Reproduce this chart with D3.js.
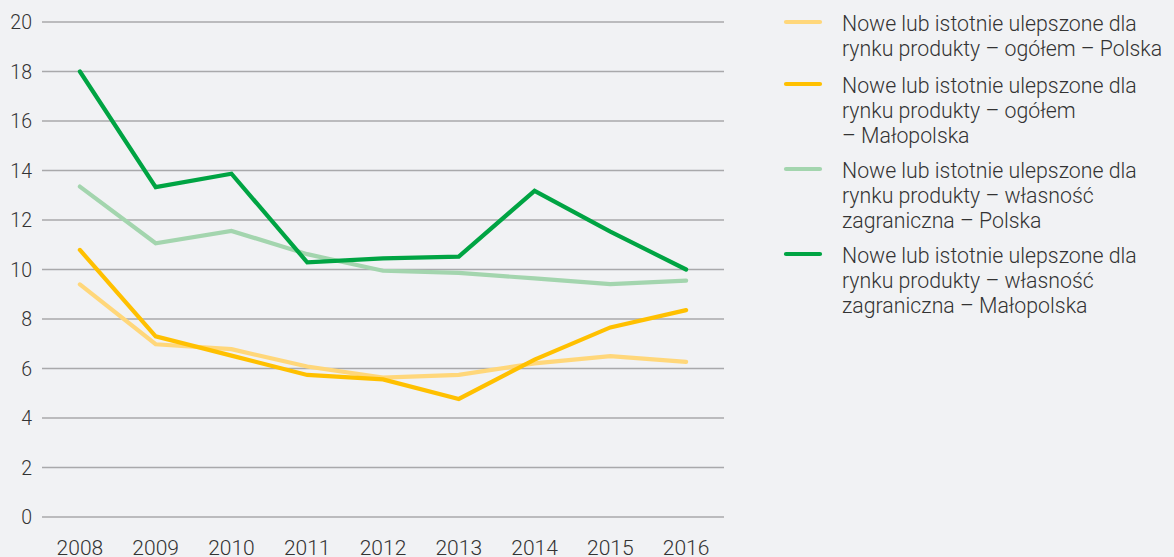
<!DOCTYPE html>
<html>
<head>
<meta charset="utf-8">
<script src="https://cdn.jsdelivr.net/npm/d3@7"></script>
<style>
  html, body { margin: 0; padding: 0; background: #f1f2f4; }
  svg { display: block; }
</style>
</head>
<body>
<svg></svg>
<script>
// years on the x axis
const years = ['2008', '2009', '2010', '2011', '2012', '2013', '2014', '2015', '2016'];
const yTicks = [0, 2, 4, 6, 8, 10, 12, 14, 16, 18, 20];

// values (%)
const polskaOgolem = [9.4, 6.98, 6.78, 6.08, 5.63, 5.74, 6.21, 6.5, 6.27];
const malopolskaOgolem = [10.79, 7.3, 6.52, 5.74, 5.56, 4.77, 6.36, 7.66, 8.36];
const polskaZagr = [13.35, 11.06, 11.56, 10.62, 9.95, 9.86, 9.64, 9.41, 9.55];
const malopolskaZagr = [18.0, 13.33, 13.87, 10.29, 10.45, 10.52, 13.18, 11.53, 10.0];

const seriesNames = [
  ['Nowe lub istotnie ulepszone dla', 'rynku produkty – ogółem – Polska'],
  ['Nowe lub istotnie ulepszone dla', 'rynku produkty – ogółem', '– Małopolska'],
  ['Nowe lub istotnie ulepszone dla', 'rynku produkty – własność', 'zagraniczna – Polska'],
  ['Nowe lub istotnie ulepszone dla', 'rynku produkty – własność', 'zagraniczna – Małopolska']
];
const seriesValues = [polskaOgolem, malopolskaOgolem, polskaZagr, malopolskaZagr];
const colors = ['#ffd77a', '#ffc000', '#a3d5ae', '#00a443'];

const width = 1174;
const height = 557;

const svg = d3.select('svg')
  .attr('width', width)
  .attr('height', height);

const x = d3.scalePoint()
  .domain(years)
  .range([42, 724])
  .padding(0.5);

const y = d3.scaleLinear()
  .domain([0, 20])
  .range([517, 22]);

// gridlines
svg.append('g')
  .selectAll('line')
  .data(yTicks)
  .enter()
  .append('line')
  .attr('x1', 42)
  .attr('x2', 724)
  .attr('y1', d => y(d))
  .attr('y2', d => y(d))
  .attr('stroke', '#a9a9ab')
  .attr('stroke-width', 1.3);

// y labels
svg.append('g')
  .selectAll('text')
  .data(yTicks)
  .enter()
  .append('text')
  .attr('x', 32)
  .attr('y', d => y(d))
  .attr('dy', '0.36em')
  .attr('text-anchor', 'end')
  .attr('font-family', 'Roboto, sans-serif')
  .attr('font-weight', 300)
  .attr('font-size', 19.5)
  .attr('fill', '#333')
  .text(d => d);

// x labels
svg.append('g')
  .selectAll('text')
  .data(years)
  .enter()
  .append('text')
  .attr('x', d => x(d))
  .attr('y', 555)
  .attr('text-anchor', 'middle')
  .attr('font-family', 'Roboto, sans-serif')
  .attr('font-weight', 300)
  .attr('font-size', 21)
  .attr('fill', '#333')
  .text(d => d);

const line = d3.line()
  .x((d, i) => x(years[i]))
  .y(d => y(d));

svg.append('g')
  .selectAll('path')
  .data(seriesValues)
  .enter()
  .append('path')
  .attr('d', d => line(d))
  .attr('fill', 'none')
  .attr('stroke', (d, i) => colors[i])
  .attr('stroke-width', 4.2)
  .attr('stroke-linejoin', 'miter')
  .attr('stroke-linecap', 'round');

// legend
const legendTop = [23, 85, 170, 255];
const legend = svg.append('g')
  .selectAll('g')
  .data(seriesNames)
  .enter()
  .append('g')
  .attr('transform', (d, i) => `translate(0, ${legendTop[i]})`);

legend.append('line')
  .attr('x1', 786)
  .attr('x2', 820)
  .attr('y1', -1)
  .attr('y2', -1)
  .attr('stroke', (d, i) => colors[i])
  .attr('stroke-width', 4.2)
  .attr('stroke-linecap', 'round');

legend.append('text')
  .attr('font-family', 'Roboto, sans-serif')
  .attr('font-weight', 300)
  .attr('font-size', 21.3)
  .attr('fill', '#333')
  .selectAll('tspan')
  .data(d => d)
  .enter()
  .append('tspan')
  .attr('x', 842)
  .attr('y', (d, i) => i * 25)
  .attr('dy', '0.36em')
  .text(d => d);
</script>
</body>
</html>
